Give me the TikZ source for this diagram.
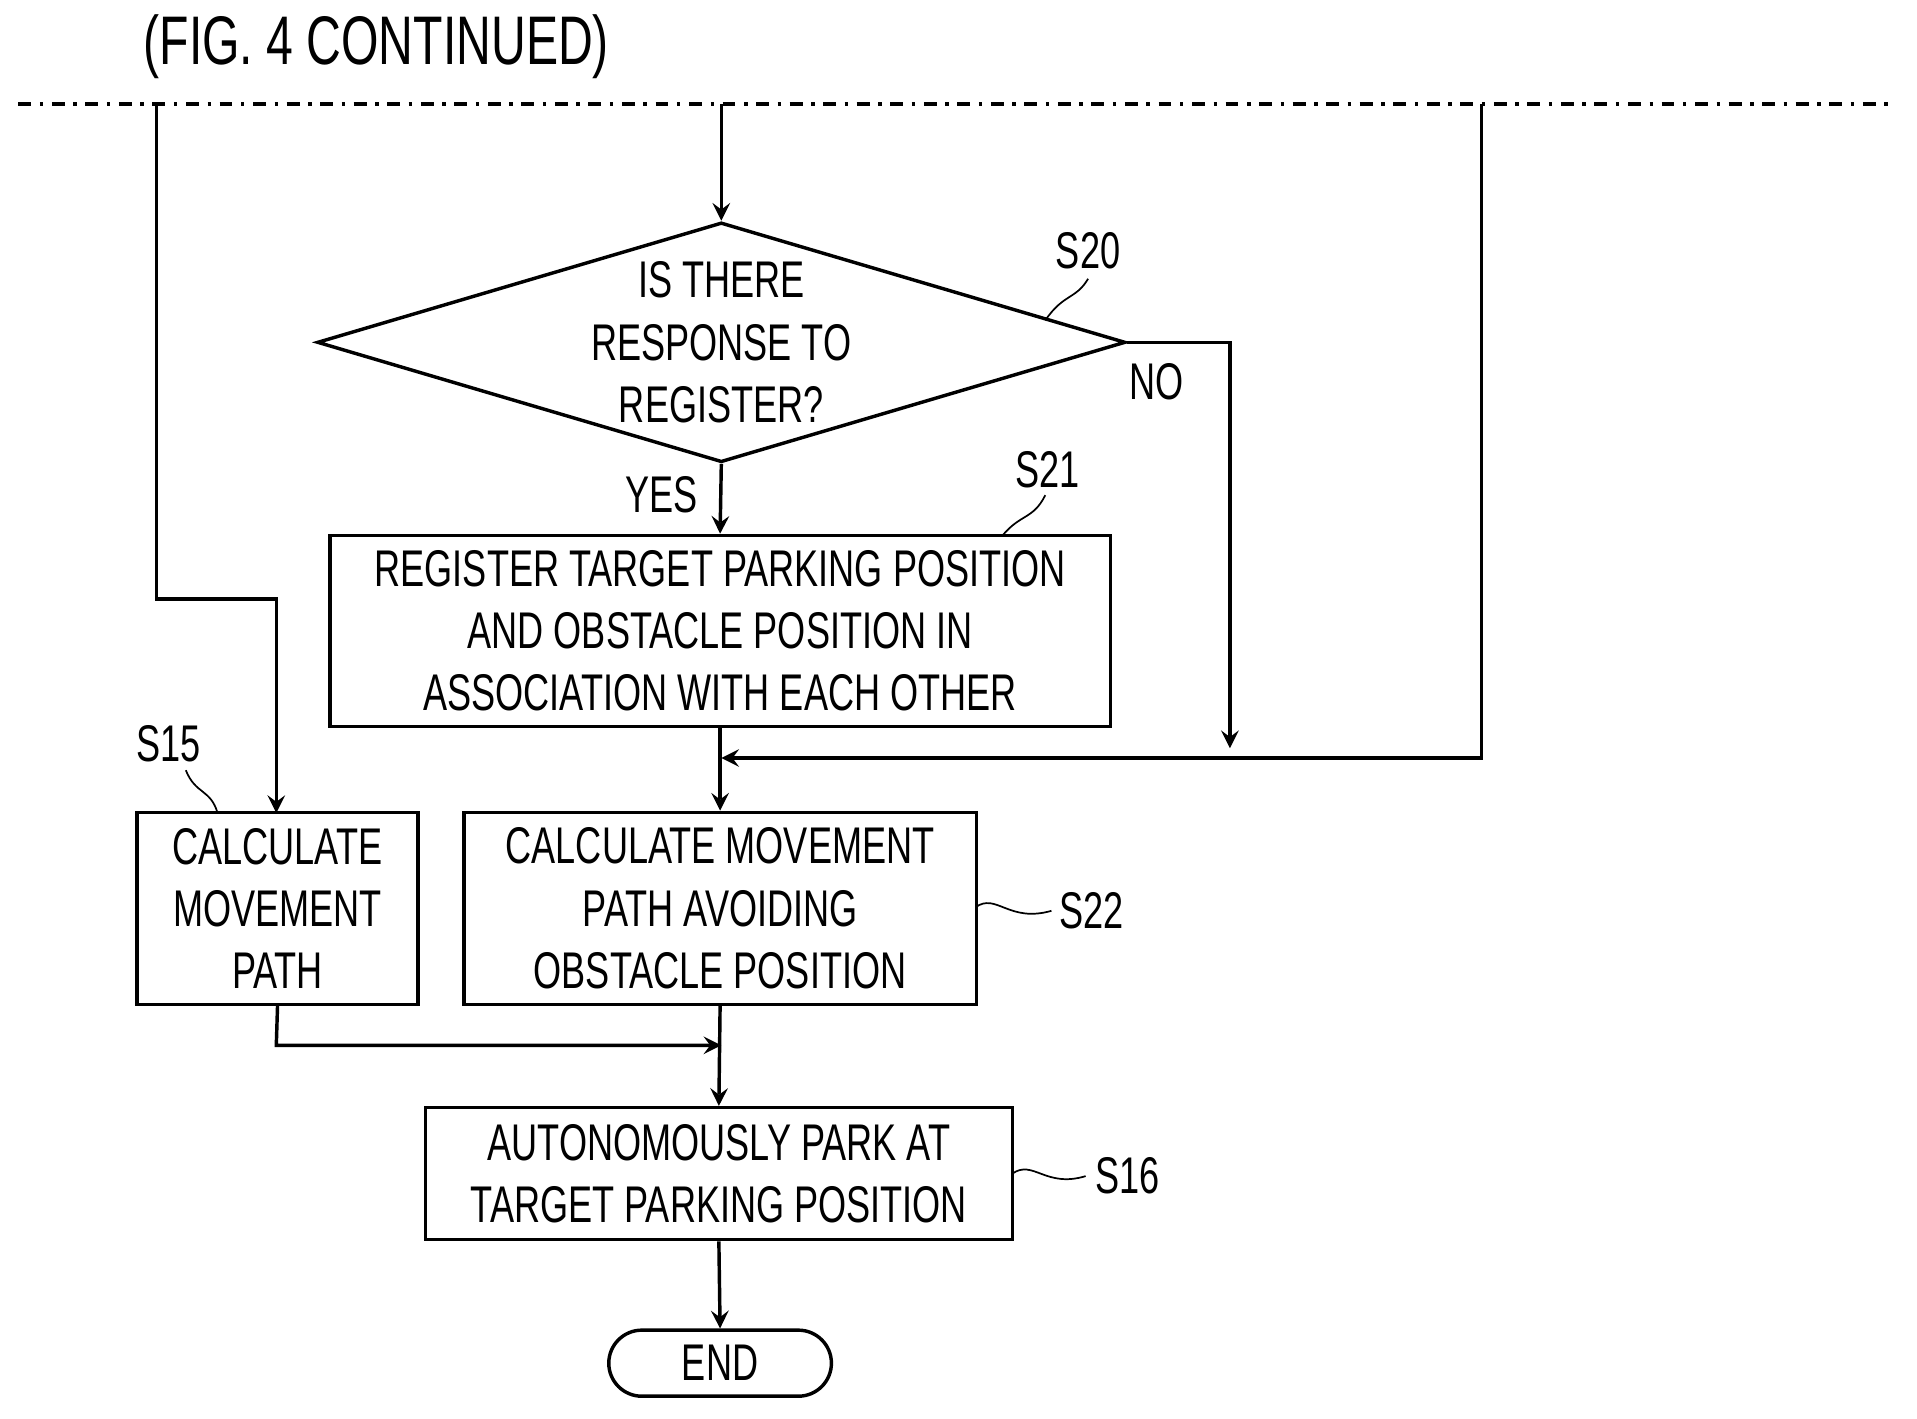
\documentclass[tikz,border=0pt]{standalone}
\usepackage{fontspec}
\setmainfont{Liberation Sans}[FakeStretch=0.7]
\usetikzlibrary{positioning,shapes,arrows}

\tikzset{
    pbox/.style={draw, thick, align=center, font=\fontsize{12}{14.5}\selectfont, inner sep=0pt},
    lbl/.style={font=\fontsize{12}{14}\selectfont},
    flow/.style={thick, -stealth},
    line/.style={thick},
    lead/.style={thin}
}

\begin{document}
\begin{tikzpicture}[x=0.01cm, y=-0.01cm]
    \useasboundingbox (0,0) rectangle (1568,1160);
    \node[lbl, anchor=west, font=\fontsize{16}{18}\selectfont] (title) at (105,38) {(FIG. 4 CONTINUED)};
    \draw[line, dash dot] (15,85) -- (1550,85);

    \node[pbox, diamond, aspect=3.4, minimum width=6.6cm, minimum height=1.96cm] (s20) at (590,280)
        {IS THERE\\RESPONSE TO\\REGISTER?};
    \node[pbox, minimum width=6.38cm, minimum height=1.56cm] (s21) at (589,516)
        {REGISTER TARGET PARKING POSITION\\AND OBSTACLE POSITION IN\\ASSOCIATION WITH EACH OTHER};
    \node[pbox, minimum width=2.3cm, minimum height=1.57cm] (s15) at (227,743)
        {CALCULATE\\MOVEMENT\\PATH};
    \node[pbox, minimum width=4.19cm, minimum height=1.57cm] (s22) at (589,743)
        {CALCULATE MOVEMENT\\PATH AVOIDING\\OBSTACLE POSITION};
    \node[pbox, minimum width=4.8cm, minimum height=1.08cm] (s16) at (588,960)
        {AUTONOMOUSLY PARK AT\\TARGET PARKING POSITION};
    \node[pbox, rounded corners=0.27cm, minimum width=1.82cm, minimum height=0.54cm] (end) at (589,1115) {END};

    % entry lines from the previous sheet
    \coordinate (topL) at (128,85);
    \coordinate (topC) at (590,85);
    \coordinate (topR) at (1212,85);
    \coordinate (merge) at (590,620);
    \coordinate (join) at (590,855);

    \draw[flow] (topC) -- (s20.north);
    \draw[flow] (topL) -- (128,490) -- (226,490) -- (226,665);
    \draw[line] (topR) -- (1212,620) -- (1006,620);
    \draw[flow] (1006,620) -- (merge);
    \draw[flow] (s20.east) -- (1006,280) -- (1006,612);
    \draw[flow] (s20.south) -- (s21.north);
    \draw[flow] (s21.south) -- (s22.north);
    \draw[flow] (s15.south) -- (226,855) -- (join);
    \draw[flow] (s22.south) -- (s16.north);
    \draw[flow] (s16.south) -- (end.north);

    \node[lbl] (no) at (946,312) {NO};
    \node[lbl] (yes) at (541,405) {YES};

    % step labels
    \node[lbl] (l20) at (890,205) {S20};
    \node[lbl] (l21) at (857,384) {S21};
    \node[lbl] (l15) at (138,608) {S15};
    \node[lbl] (l22) at (893,745) {S22};
    \node[lbl] (l16) at (922,962) {S16};
    \draw[lead] (855,262) .. controls (870,240) and (880,245) .. (890,228);
    \draw[lead] (820,438) .. controls (835,420) and (845,425) .. (855,405);
    \draw[lead] (178,665) .. controls (172,645) and (160,650) .. (152,630);
    \draw[lead] (798,742) .. controls (815,730) and (825,755) .. (860,745);
    \draw[lead] (828,960) .. controls (845,948) and (855,972) .. (888,962);
\end{tikzpicture}
\end{document}
